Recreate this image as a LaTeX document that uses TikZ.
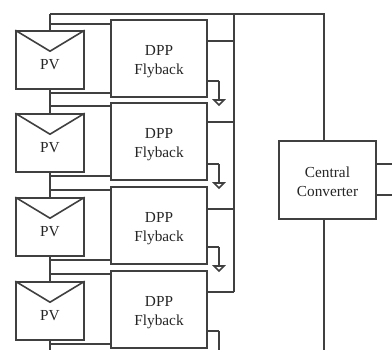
\documentclass[tikz,border=0pt]{standalone}
\usepackage{fontspec}
\setmainfont{Liberation Serif}
\usetikzlibrary{calc}
\newcommand{\lowtxt}[2]{\raisebox{-#1}[\height][\depth]{#2}}
\tikzset{
  wire/.style={line width=1.6pt,draw=black!75,line join=miter},
  box/.style={draw=black!75,line width=1.6pt,fill=white,inner sep=0pt,align=center,font=\fontsize{15.3}{19}\selectfont,text=black!85},
  pvbox/.style={box,minimum width=68pt,minimum height=58pt,text depth=0pt},
  dppbox/.style={box,minimum width=96pt,minimum height=77pt},
}
\begin{document}
\begin{tikzpicture}[x=1pt,y=-1pt]
\useasboundingbox (0,0) rectangle (392,350);
\clip (0,0) rectangle (392,350);
\coordinate (topL) at (50,14);
\coordinate (topB) at (234,14);
\coordinate (topR) at (324,14);
\coordinate (busEnd) at (234,292);
\coordinate (leftEnd) at (50,350);
\coordinate (rightEnd) at (324,350);
\coordinate (out1) at (392,164);
\coordinate (out2) at (392,195);
% central converter
\draw[wire] (topL) -- (topR) -- (rightEnd);
\node[box,minimum width=97pt,minimum height=78pt] (cc) at (327.5,180) {\lowtxt{2pt}{Central}\\\lowtxt{2pt}{Converter}};
% main wires
\draw[wire] (topB) -- (busEnd);
\draw[wire] (topL) -- (leftEnd);
\draw[wire] (cc.east |- out1) -- (out1);
\draw[wire] (cc.east |- out2) -- (out2);
% PV + DPP stages
\foreach \i/\yp/\yd/\ya/\yb/\ys/\yg in {
  1/60/58.5/24/93/41/81,
  2/143/141.5/106/176/122/164,
  3/227/225.5/190/260/209/247,
  4/311/309.5/274/344/292/331}{
  \node[pvbox] (pv\i) at (50,\yp) {};
  \node[font=\fontsize{15.3}{19}\selectfont,text=black!85] (pvt\i) at (50,\yp+5) {PV};
  \draw[wire] (pv\i.north west) -- ($(pv\i.north)+(0,21)$) -- (pv\i.north east);
  \node[dppbox] (dpp\i) at (159,\yd) {\lowtxt{3pt}{DPP}\\\lowtxt{3pt}{Flyback}};
  \coordinate (a\i) at (50,\ya);
  \coordinate (b\i) at (50,\yb);
  \coordinate (s\i) at (234,\ys);
  \coordinate (g\i) at (219,\yg);
  \draw[wire] (a\i) -- (dpp\i.west |- a\i);
  \draw[wire] (b\i) -- (dpp\i.west |- b\i);
  \draw[wire] (dpp\i.east |- s\i) -- (s\i);
  \draw[wire] (dpp\i.east |- g\i) -- (g\i);
}
% grounds
\foreach \i/\ye in {1/81,2/164,3/247}{
  \coordinate (gs\i) at (219,\ye);
  \coordinate (t\i) at (219,\ye+19);
  \draw[wire] (gs\i) -- (t\i);
  \draw[wire] ($(t\i)+(-5,0)$) -- ($(t\i)+(5,0)$) -- ($(t\i)+(0,5)$) -- cycle;
}
\coordinate (g4s) at (219,331);
\coordinate (g4e) at (219,350);
\draw[wire] (g4s) -- (g4e);
\end{tikzpicture}
\end{document}
